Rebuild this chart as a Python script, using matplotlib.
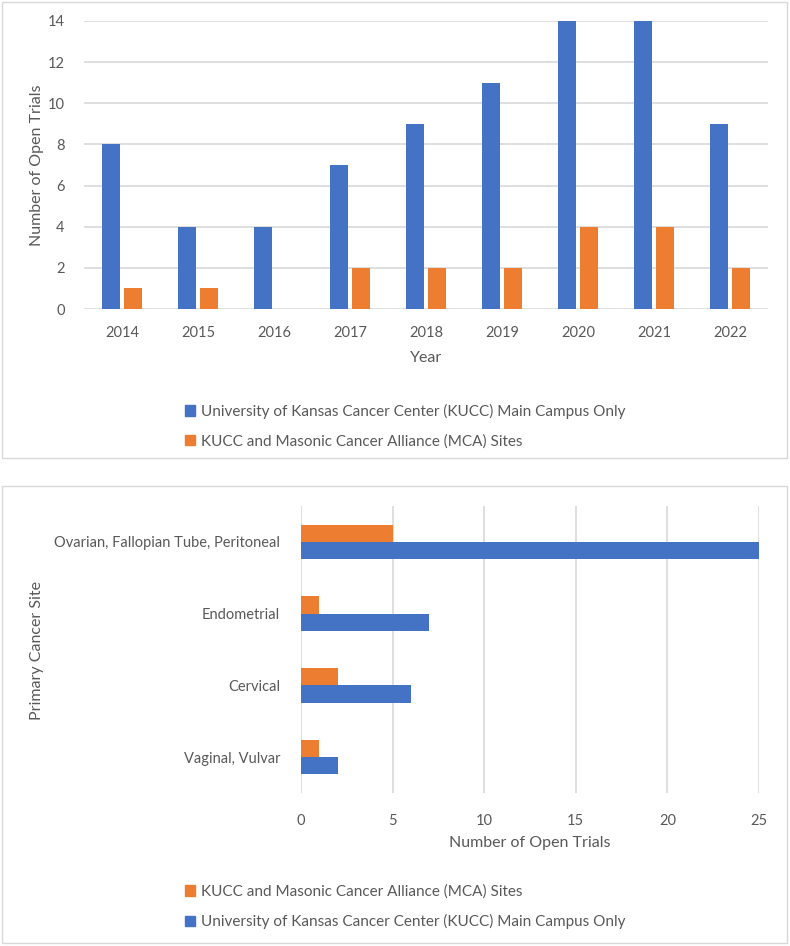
import matplotlib
matplotlib.use('Agg')
import matplotlib.pyplot as plt
import matplotlib.patches as mpatches
import numpy as np

plt.rcParams['font.family'] = ['Lato', 'DejaVu Sans']

# data
years = ['2014', '2015', '2016', '2017', '2018', '2019', '2020', '2021', '2022']
kucc_year = [8, 4, 4, 7, 9, 11, 14, 14, 9]
mca_year = [1, 1, 0, 2, 2, 2, 4, 4, 2]

sites = ['Ovarian, Fallopian Tube, Peritoneal', 'Endometrial', 'Cervical', 'Vaginal, Vulvar']
kucc_site = [25, 7, 6, 2]
mca_site = [5, 1, 2, 1]

lab_kucc = 'University of Kansas Cancer Center (KUCC) Main Campus Only'
lab_mca = 'KUCC and Masonic Cancer Alliance (MCA) Sites'

blue = '#4472C4'
orange = '#ED7D31'
grid_c = '#D9D9D9'
txt = '#595959'

W, H = 790, 946
fig = plt.figure(figsize=(W/100, H/100), dpi=100)

def fx(px):
    return px / W

def fy(py):
    return 1 - py / H

# panel borders
for top, bot in [(2, 458), (486, 943)]:
    fig.patches.append(mpatches.Rectangle((fx(2), fy(bot)), fx(785), (bot-top)/H,
                                          transform=fig.transFigure, fill=False,
                                          edgecolor=grid_c, lw=1))

# ---- top chart: by year
ax1 = fig.add_axes([fx(84), fy(309), fx(768-84), (309-21)/H])
x = np.arange(len(years))
w = 0.225
ax1.bar(x - 0.145, kucc_year, w, color=blue, zorder=3)
ax1.bar(x + 0.145, mca_year, w, color=orange, zorder=3)
ax1.set_xlim(-0.5, len(years) - 0.5)
ax1.set_ylim(0, 14)
ax1.set_yticks(range(0, 15, 2))
ax1.set_xticks(x)
ax1.set_xticklabels(years)
ax1.yaxis.grid(True, color=grid_c, lw=1.2, zorder=0)
for s in ax1.spines.values():
    s.set_visible(False)
ax1.tick_params(length=0, labelsize=10.5, labelcolor=txt, pad=12)
ax1.tick_params(axis='y', pad=14)
ax1.set_xlabel('Year', fontsize=11.5, color=txt, labelpad=8)
fig.text(fx(37), fy(165), 'Number of Open Trials', rotation=90, ha='center', va='center',
         fontsize=11.5, color=txt)

fig.legend(handles=[mpatches.Patch(color=blue, label=lab_kucc),
                    mpatches.Patch(color=orange, label=lab_mca)],
           loc='upper left', bbox_to_anchor=(fx(171), fy(390)), frameon=False,
           handlelength=0.7, handleheight=0.7, handletextpad=0.35,
           labelspacing=1.0, fontsize=11, labelcolor=txt)

# ---- bottom chart: by site
ax2 = fig.add_axes([fx(301), fy(793), fx(759-301), (793-506)/H])
y = np.arange(len(sites))
h = 0.24
ax2.barh(y - 0.12, mca_site, h, color=orange, zorder=3)
ax2.barh(y + 0.12, kucc_site, h, color=blue, zorder=3)
ax2.set_ylim(len(sites) - 0.5, -0.5)
ax2.set_xlim(0, 25)
ax2.set_xticks(range(0, 26, 5))
ax2.set_yticks(y)
ax2.set_yticklabels(sites)
ax2.xaxis.grid(True, color=grid_c, lw=1.2, zorder=0)
for s in ax2.spines.values():
    s.set_visible(False)
ax2.tick_params(length=0, labelsize=10.5, labelcolor=txt, pad=15)
ax2.set_xlabel('Number of Open Trials', fontsize=11.5, color=txt, labelpad=6)
fig.text(fx(37), fy(650), 'Primary Cancer Site', rotation=90, ha='center', va='center',
         fontsize=11.5, color=txt)

fig.legend(handles=[mpatches.Patch(color=orange, label=lab_mca),
                    mpatches.Patch(color=blue, label=lab_kucc)],
           loc='upper left', bbox_to_anchor=(fx(171), fy(871)), frameon=False,
           handlelength=0.7, handleheight=0.7, handletextpad=0.35,
           labelspacing=1.0, fontsize=11, labelcolor=txt)

fig.savefig('out.png', dpi=100)
